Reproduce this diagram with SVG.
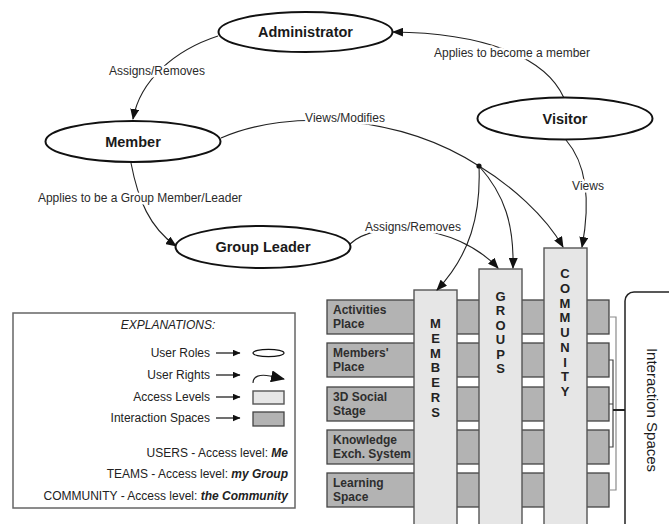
<svg xmlns="http://www.w3.org/2000/svg" width="669" height="524" viewBox="0 0 669 524">
  <style>
    .role { fill: #ffffff; stroke: #111; stroke-width: 2; }
    .role-label { font-family: "Liberation Sans", Arial, sans-serif; font-size: 14.5px; font-weight: bold; fill: #1a1a1a; text-anchor: middle; }
    .edge { fill: none; stroke: #222; stroke-width: 1.1; }
    .edge-label { font-family: "Liberation Sans", Arial, sans-serif; font-size: 12px; fill: #2a2a2a; text-anchor: middle; paint-order: stroke; stroke: #ffffff; stroke-width: 5px; stroke-linejoin: round; }
    .level { fill: #e6e6e6; stroke: #555; stroke-width: 1.4; }
    .space { fill: #b3b3b3; stroke: #444; stroke-width: 1.3; }
    .space-label { font-family: "Liberation Sans", Arial, sans-serif; font-size: 12px; font-weight: bold; fill: #2e2e2e; }
    .level-label { font-family: "Liberation Sans", Arial, sans-serif; font-size: 13px; font-weight: bold; fill: #222; text-anchor: middle; }
    .legend-text { font-family: "Liberation Sans", Arial, sans-serif; font-size: 12px; fill: #222; }
    .bracket { fill: none; stroke-width: 1.2; }
  </style>
  <defs>
    <marker id="arrow" markerUnits="userSpaceOnUse" markerWidth="11" markerHeight="9" refX="10" refY="4.5" orient="auto">
      <path d="M0,0 L11,4.5 L0,9 z" fill="#111"/>
    </marker>
    <marker id="arrow-small" markerUnits="userSpaceOnUse" markerWidth="8" markerHeight="7" refX="7.5" refY="3.5" orient="auto">
      <path d="M0,0 L8,3.5 L0,7 z" fill="#111"/>
    </marker>
    <marker id="arrow-large" markerUnits="userSpaceOnUse" markerWidth="14" markerHeight="12" refX="13" refY="6" orient="auto">
      <path d="M0,0 L14,6 L0,12 z" fill="#111"/>
    </marker>
  </defs>

  <rect width="669" height="524" fill="#ffffff"/>

  <!-- interaction spaces (rows) -->
  <g id="spaces">
    <g id="space-activities">
      <rect class="space" x="327" y="300" width="282" height="34"/>
      <text class="space-label" x="333" y="313.5">Activities</text>
      <text class="space-label" x="333" y="327.5">Place</text>
    </g>
    <g id="space-members-place">
      <rect class="space" x="327" y="343" width="282" height="34"/>
      <text class="space-label" x="333" y="356.5">Members'</text>
      <text class="space-label" x="333" y="370.5">Place</text>
    </g>
    <g id="space-social-stage">
      <rect class="space" x="327" y="387" width="282" height="34"/>
      <text class="space-label" x="333" y="400.5">3D Social</text>
      <text class="space-label" x="333" y="414.5">Stage</text>
    </g>
    <g id="space-knowledge">
      <rect class="space" x="327" y="430" width="282" height="34"/>
      <text class="space-label" x="333" y="443.5">Knowledge</text>
      <text class="space-label" x="333" y="457.5">Exch. System</text>
    </g>
    <g id="space-learning">
      <rect class="space" x="327" y="473" width="282" height="34"/>
      <text class="space-label" x="333" y="486.5">Learning</text>
      <text class="space-label" x="333" y="500.5">Space</text>
    </g>
  </g>

  <!-- access levels (columns) -->
  <g id="level-members">
    <rect class="level" x="414" y="290" width="43" height="240"/>
    <text class="level-label">
      <tspan x="435.5" y="328">M</tspan><tspan x="435.5" dy="14.8">E</tspan><tspan x="435.5" dy="14.8">M</tspan><tspan x="435.5" dy="14.8">B</tspan><tspan x="435.5" dy="14.8">E</tspan><tspan x="435.5" dy="14.8">R</tspan><tspan x="435.5" dy="14.8">S</tspan>
    </text>
  </g>
  <g id="level-groups">
    <rect class="level" x="479" y="269" width="43" height="260"/>
    <text class="level-label">
      <tspan x="500.5" y="301">G</tspan><tspan x="500.5" dy="14.4">R</tspan><tspan x="500.5" dy="14.4">O</tspan><tspan x="500.5" dy="14.4">U</tspan><tspan x="500.5" dy="14.4">P</tspan><tspan x="500.5" dy="14.4">S</tspan>
    </text>
  </g>
  <g id="level-community">
    <rect class="level" x="544" y="248" width="43" height="280"/>
    <text class="level-label">
      <tspan x="565" y="278">C</tspan><tspan x="565" dy="14.75">O</tspan><tspan x="565" dy="14.75">M</tspan><tspan x="565" dy="14.75">M</tspan><tspan x="565" dy="14.75">U</tspan><tspan x="565" dy="14.75">N</tspan><tspan x="565" dy="14.75">I</tspan><tspan x="565" dy="14.75">T</tspan><tspan x="565" dy="14.75">Y</tspan>
    </text>
  </g>

  <!-- bracket grouping the interaction spaces -->
  <g id="interaction-spaces">
    <path class="bracket" stroke="#8a8a8a" d="M609,317 H616 V490 H609"/>
    <path class="bracket" stroke="#444" d="M609,360 H613 V447 H609 M609,404 H613"/>
    <path fill="none" stroke="#222" stroke-width="2" d="M613,410 H625"/>
    <rect x="625" y="292" width="70" height="260" rx="9" fill="none" stroke="#222" stroke-width="1.5"/>
    <text x="0" y="0" transform="translate(647,410) rotate(90)" font-family="'Liberation Sans', Arial, sans-serif" font-size="15" fill="#1a1a1a" text-anchor="middle">Interaction Spaces</text>
  </g>

  <!-- user rights connectors -->
  <g id="connectors">
    <path class="edge" d="M218,36 C175,50 140,80 133,119" marker-end="url(#arrow)"/>
    <path class="edge" d="M564,98 C545,55 480,33 393,32" marker-end="url(#arrow)"/>
    <path class="edge" d="M131,163 C138,200 150,228 176,246" marker-end="url(#arrow)"/>
    <path class="edge" d="M221,138 C290,108 400,115 479,166"/>
    <path class="edge" d="M479,166 C481,215 470,255 437,290" marker-end="url(#arrow)"/>
    <path class="edge" d="M479,166 C505,195 514,225 513,268" marker-end="url(#arrow)"/>
    <path class="edge" d="M479,166 C510,185 545,215 563,247" marker-end="url(#arrow)"/>
    <path class="edge" d="M566,140 C592,170 588,215 582,247" marker-end="url(#arrow)"/>
    <path class="edge" d="M350,244 C375,220 455,222 498,268" marker-end="url(#arrow)"/>
    <circle cx="479" cy="166" r="2.6" fill="#111"/>
    <text class="edge-label" x="157" y="75">Assigns/Removes</text>
    <text class="edge-label" x="512" y="57">Applies to become a member</text>
    <text class="edge-label" x="140" y="202">Applies to be a Group Member/Leader</text>
    <text class="edge-label" x="345" y="122">Views/Modifies</text>
    <text class="edge-label" x="413" y="231">Assigns/Removes</text>
    <text class="edge-label" x="588" y="190">Views</text>
  </g>

  <!-- user roles -->
  <g id="administrator">
    <ellipse class="role" cx="305.5" cy="32" rx="87" ry="20"/>
    <text class="role-label" x="305.5" y="37">Administrator</text>
  </g>
  <g id="visitor">
    <ellipse class="role" cx="565" cy="118.5" rx="87.5" ry="21"/>
    <text class="role-label" x="565" y="123.5">Visitor</text>
  </g>
  <g id="member">
    <ellipse class="role" cx="133" cy="141.5" rx="87.5" ry="20.5"/>
    <text class="role-label" x="133" y="146.5">Member</text>
  </g>
  <g id="group-leader">
    <ellipse class="role" cx="263" cy="247" rx="87.5" ry="21"/>
    <text class="role-label" x="263" y="252">Group Leader</text>
  </g>

  <!-- legend -->
  <g id="legend">
    <rect x="13" y="313" width="282" height="195" fill="#ffffff" stroke="#666" stroke-width="1.5"/>
    <text class="legend-text" x="168" y="329" text-anchor="middle" font-style="italic">EXPLANATIONS:</text>
    <g text-anchor="end">
      <text class="legend-text" x="210" y="357">User Roles</text>
      <text class="legend-text" x="210" y="379">User Rights</text>
      <text class="legend-text" x="210" y="401">Access Levels</text>
      <text class="legend-text" x="210" y="422">Interaction Spaces</text>
    </g>
    <g stroke="#111" stroke-width="1.2">
      <line x1="216" y1="353" x2="240" y2="353" marker-end="url(#arrow-small)"/>
      <line x1="216" y1="375" x2="240" y2="375" marker-end="url(#arrow-small)"/>
      <line x1="216" y1="397" x2="240" y2="397" marker-end="url(#arrow-small)"/>
      <line x1="216" y1="418" x2="240" y2="418" marker-end="url(#arrow-small)"/>
    </g>
    <ellipse cx="268.5" cy="353" rx="15.5" ry="3.6" fill="#fff" stroke="#111" stroke-width="1.2"/>
    <path class="edge" d="M253,383 C253,376 260,374 270,376 L284,379" marker-end="url(#arrow-large)"/>
    <rect class="level" x="253" y="391" width="31" height="13"/>
    <rect class="space" x="253" y="412" width="31" height="14"/>
    <text class="legend-text" x="288" y="457" text-anchor="end">USERS - Access level: <tspan font-weight="bold" font-style="italic">Me</tspan></text>
    <text class="legend-text" x="288" y="478" text-anchor="end">TEAMS - Access level: <tspan font-weight="bold" font-style="italic">my Group</tspan></text>
    <text class="legend-text" x="288" y="500" text-anchor="end">COMMUNITY - Access level: <tspan font-weight="bold" font-style="italic">the Community</tspan></text>
  </g>
</svg>
